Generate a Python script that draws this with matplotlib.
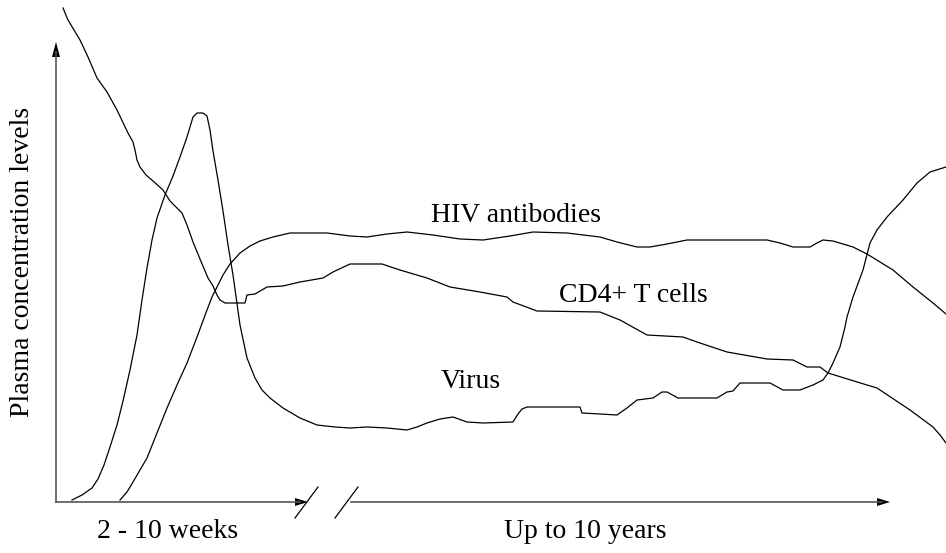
import numpy as np
import matplotlib.pyplot as plt

plt.rcParams['font.family'] = ['Liberation Serif', 'DejaVu Serif']

# Canvas is in picture pixels (y grows downward)
W, H = 946, 553

# Curves: (x, y) pairs
cd4_x = [63, 68, 80, 88, 97, 107, 117, 128, 133, 135, 137, 140, 146, 153, 163, 170,
         182, 187, 193, 200, 208, 213, 217, 220, 225, 245, 247, 255, 267, 283, 300,
         323, 333, 350, 382, 400, 427, 450, 480, 507, 513, 537, 600, 620, 647, 683,
         697, 727, 767, 793, 807, 820, 828, 867, 877, 910, 933, 940, 946]
cd4_y = [8, 20, 40, 57, 78, 92, 110, 133, 142, 150, 160, 167, 175, 181, 190, 201,
         213, 225, 242, 259, 278, 286, 295, 300, 303, 303, 295, 294, 287, 286, 282,
         278, 272, 264, 264, 270, 278, 287, 292, 297, 302, 311, 312, 320, 335, 337,
         342, 352, 359, 360, 367, 367, 373, 385, 388, 410, 427, 435, 443]

virus_x = [72, 82, 92, 98, 104, 110, 117, 123, 130, 137, 142, 147, 152, 157, 165,
           173, 180, 187, 193, 197, 203, 207, 210, 213, 218, 223, 228, 233, 240, 247,
           255, 262, 270, 283, 300, 317, 335, 350, 367, 387, 407, 417, 427, 440, 453,
           467, 483, 513, 518, 522, 527, 580, 582, 600, 617, 627, 637, 653, 662, 667,
           678, 717, 727, 733, 740, 770, 783, 800, 813, 823, 828, 833, 840, 845, 847,
           853, 863, 870, 877, 887, 903, 917, 930, 946]
virus_y = [500, 495, 488, 479, 465, 447, 425, 401, 370, 335, 300, 268, 240, 218, 195,
           176, 157, 137, 117, 113, 113, 116, 130, 151, 180, 211, 245, 275, 325, 358,
           378, 390, 398, 408, 418, 425, 427, 428, 427, 428, 430, 427, 423, 419, 417,
           422, 423, 422, 414, 409, 407, 407, 413, 414, 415, 408, 400, 398, 392, 392,
           398, 398, 392, 391, 383, 383, 390, 390, 385, 380, 373, 363, 347, 327, 317,
           297, 270, 243, 230, 217, 200, 183, 172, 167]

ab_x = [120, 127, 133, 140, 147, 157, 167, 177, 187, 197, 207, 212, 217, 223, 230,
        240, 250, 260, 273, 290, 300, 327, 350, 367, 387, 407, 433, 460, 483, 510,
        533, 567, 600, 617, 637, 650, 667, 687, 767, 780, 793, 810, 817, 823, 833,
        853, 867, 893, 913, 933, 946]
ab_y = [500, 492, 482, 470, 458, 433, 408, 385, 363, 337, 310, 297, 287, 275, 264,
        253, 246, 241, 237, 233, 233, 233, 236, 237, 234, 232, 235, 239, 240, 236,
        232, 233, 237, 242, 247, 247, 244, 240, 240, 243, 247, 247, 243, 240, 241,
        247, 254, 270, 287, 303, 314]

labels = ['HIV antibodies', 'CD4+ T cells', 'Virus']
label_pos = [(516, 215), (633, 296), (471, 382)]

# Axes geometry
origin = (56, 502)
y_tip = 42
x_tip1, x_tip2 = 308, 890
x_resume = 351
breaks = [(295, 318), (335, 358)]
break_y = (518, 487)

fig = plt.figure(figsize=(W / 100, H / 100), dpi=100)
ax = fig.add_axes([0, 0, 1, 1])
ax.set_xlim(0, W)
ax.set_ylim(H, 0)
ax.axis('off')

axis_col = '#555555'
ax.plot([origin[0], origin[0]], [origin[1], y_tip + 10], color=axis_col, lw=1.2)
ax.plot([origin[0], x_tip1 - 8], [origin[1], origin[1]], color=axis_col, lw=1.2)
ax.plot([x_resume, x_tip2 - 8], [origin[1], origin[1]], color=axis_col, lw=1.2)

# arrow heads
ax.fill([origin[0] - 4, origin[0] + 4, origin[0]],
        [y_tip + 15, y_tip + 15, y_tip], color='black', lw=0)
for tip in (x_tip1, x_tip2):
    ax.fill([tip - 13, tip - 13, tip],
            [origin[1] - 4, origin[1] + 4, origin[1]], color='black', lw=0)

for x0, x1 in breaks:
    ax.plot([x0, x1], list(break_y), color='black', lw=0.9)

for xs, ys in [(cd4_x, cd4_y), (virus_x, virus_y), (ab_x, ab_y)]:
    ax.plot(xs, ys, color='black', lw=0.9, solid_joinstyle='round')

for txt, (x, y) in zip(labels, label_pos):
    ax.text(x, y, txt, fontsize=20, ha='center', va='center')

ax.text(168, 532, '2 - 10 weeks', fontsize=20, ha='center', va='center')
ax.text(585, 532, 'Up to 10 years', fontsize=20, ha='center', va='center')
ax.text(23, 262, 'Plasma concentration levels', fontsize=20, rotation=90,
        ha='center', va='center')

fig.savefig('out.png', dpi=100)
